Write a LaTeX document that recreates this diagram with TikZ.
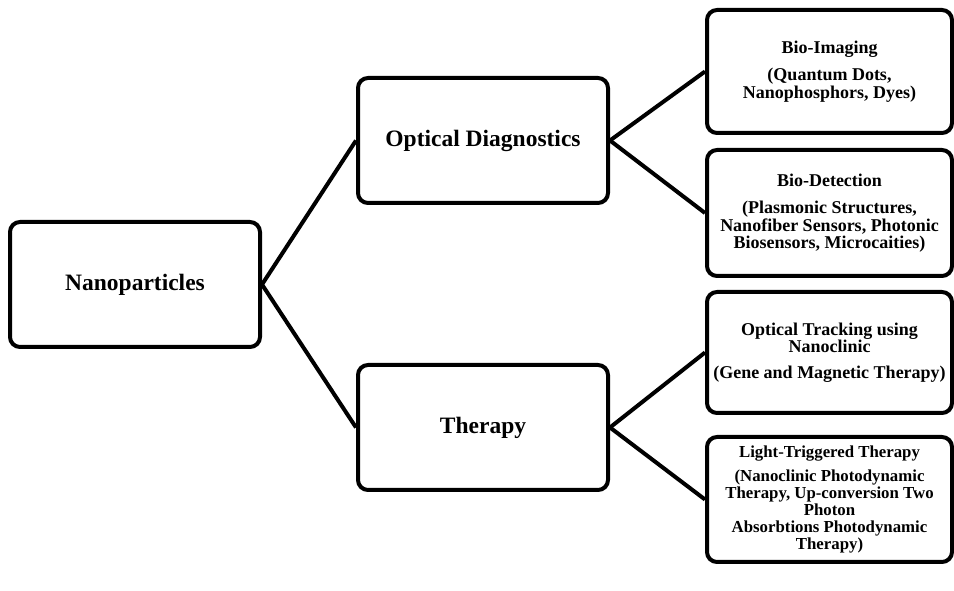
\documentclass[tikz,border=0pt]{standalone}
\usepackage{fontspec}
\setmainfont{Liberation Serif}

\begin{document}
\begin{tikzpicture}[x=1pt,y=1pt,
    box/.style={draw, line width=4pt, rounded corners=10pt, align=center, inner sep=2pt,
      minimum width=250pt, minimum height=125pt,
      font=\bfseries\fontsize{23.5}{26}\selectfont},
    subbox/.style={box, minimum width=245pt, font=\bfseries\fontsize{18}{17.5}\selectfont},
    link/.style={line width=4pt}]
    \useasboundingbox (0,0) rectangle (954,591);

    % Root and the two branches
    \node[box] (nano) at (135,306.5) {Nanoparticles};
    \node[box] (optic) at (483,450.5) {Optical Diagnostics};
    \node[box] (ther) at (483,163.5) {Therapy};

    % Leaves on the right
    \node[subbox, minimum height=123pt] (imag) at (829.5,519.5)
        {Bio-Imaging\\[10pt](Quantum Dots,\\Nanophosphors, Dyes)};
    \node[subbox, minimum height=126pt] (detect) at (829.5,378)
        {Bio-Detection\\[10pt](Plasmonic Structures,\\Nanofiber Sensors, Photonic\\Biosensors, Microcaities)};
    \node[subbox, minimum height=121pt] (track) at (829.5,238.5)
        {Optical Tracking using\\Nanoclinic\\[8pt](Gene and Magnetic Therapy)};
    \node[subbox, font=\bfseries\fontsize{16.8}{17}\selectfont] (light) at (829.5,91.5)
        {Light-Triggered Therapy\\[7pt](Nanoclinic Photodynamic\\Therapy, Up-conversion Two\\Photon\\Absorbtions Photodynamic\\Therapy)};

    % Connectors
    \foreach \from/\to in {nano/optic, nano/ther, optic/imag, optic/detect, ther/track, ther/light}
        \draw[link] (\from.east) -- (\to.west);
\end{tikzpicture}
\end{document}
